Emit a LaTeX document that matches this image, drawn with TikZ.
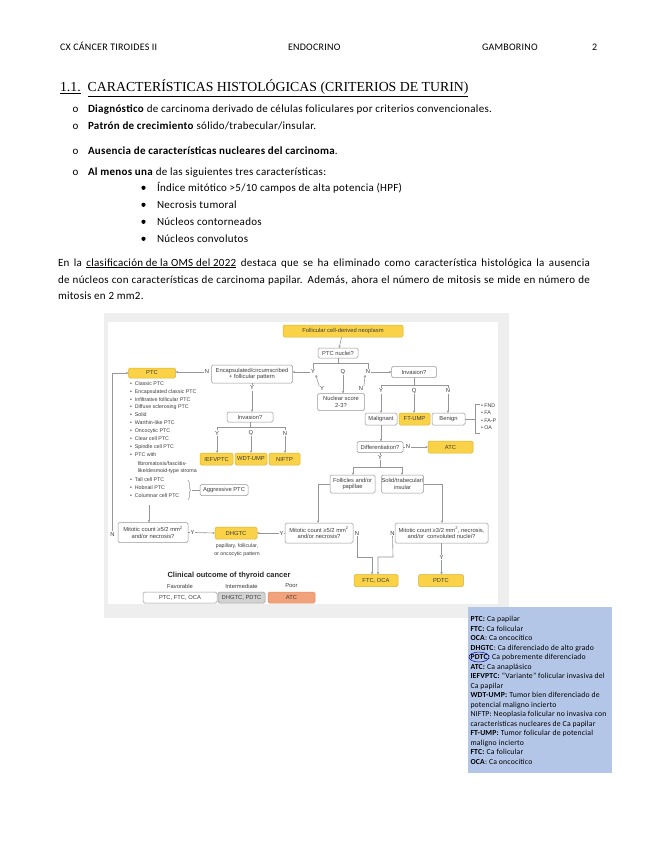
\documentclass[tikz,border=0pt]{standalone}
\usepackage{fontspec}
\setmainfont{Carlito}
\newfontfamily\figfont{Liberation Sans}
\newfontfamily\headfont{Liberation Serif}
\usetikzlibrary{arrows.meta,decorations.pathreplacing}
\definecolor{yfill}{RGB}{250,210,72}
\definecolor{ydraw}{RGB}{222,176,40}
\definecolor{fgray}{RGB}{150,150,150}
\definecolor{ftext}{RGB}{60,60,60}
\definecolor{legblue}{RGB}{180,198,231}
\definecolor{salmon}{RGB}{242,162,122}
\definecolor{salmond}{RGB}{225,140,100}
\definecolor{midgray}{RGB}{210,210,210}
\definecolor{bggray}{RGB}{238,238,238}
\begin{document}
\begin{tikzpicture}[x=1pt,y=-1pt,
  every node/.style={inner sep=0pt,outer sep=0pt},
  fb/.style={draw=fgray,line width=0.5pt,rounded corners=1.5pt,fill=white,font=\figfont\fontsize{5.8}{6.6}\selectfont,text=ftext,align=center},
  yb/.style={fb,fill=yfill,draw=ydraw},
  lb/.style={font=\figfont\fontsize{5.8}{6.6}\selectfont,text=ftext,inner sep=0.8pt},
  li/.style={font=\figfont\fontsize{5.3}{6}\selectfont,text=ftext,anchor=west},
  ar/.style={draw=fgray,line width=0.6pt,-{Stealth[length=2.6pt,width=2.4pt]}},
  ln/.style={draw=fgray,line width=0.6pt},
  hd/.style={anchor=base west,font=\fontsize{10}{12}\selectfont\addfontfeature{LetterSpace=2.5}},
  body/.style={anchor=base west,font=\fontsize{11}{13}\selectfont\addfontfeature{LetterSpace=2.5}},
  leg/.style={anchor=base west,font=\fontsize{7.7}{9}\selectfont\addfontfeature{LetterSpace=2.5}},
]
\useasboundingbox (0,0) rectangle (655,848);
\fill[white] (0,0) rectangle (655,848);

% ---------- header ----------
\node[hd] (h1) at (60,50.5) {CX CÁNCER TIROIDES II};
\node[hd] (h2) at (288,50.5) {ENDOCRINO};
\node[hd] (h3) at (482,50.5) {GAMBORINO};
\node[hd] (h4) at (592,50.5) {2};

% ---------- heading ----------
\node[anchor=base west,font=\headfont\fontsize{13.8}{15}\selectfont] (title) at (60,92)
  {\underline{1.1.}\hspace{7pt}\underline{CARACTERÍSTICAS HISTOLÓGICAS (CRITERIOS DE TURIN)}};

% ---------- bullets ----------
\node[body,anchor=base] (o1) at (75.5,113) {o};
\node[body] (t1) at (88,113) {\textbf{Diagnóstico} de carcinoma derivado de células foliculares por criterios convencionales.};
\node[body,anchor=base] (o2) at (75.5,130) {o};
\node[body] (t2) at (88,130) {\textbf{Patrón de crecimiento} sólido/trabecular/insular.};
\node[body,anchor=base] (o3) at (75.5,154) {o};
\node[body] (t3) at (88,154) {\textbf{Ausencia de características nucleares del carcinoma}.};
\node[body,anchor=base] (o4) at (75.5,175) {o};
\node[body] (t4) at (88,175) {\textbf{Al menos una} de las siguientes tres características:};
\foreach \yy/\tt in {191/{Índice mitótico >5/10 campos de alta potencia (HPF)},208/{Necrosis tumoral},225/{Núcleos contorneados},242/{Núcleos convolutos}}{
  \fill (143.5,\yy-3.2) circle (2.1);
  \node[body] at (157,\yy) {\tt};
}

% ---------- paragraph ----------
\node[body] (p1) at (58,266) {\makebox[532pt][s]{En la \underline{clasificación de la OMS del 2022} destaca que se ha eliminado como característica histológica la ausencia}};
\node[body] (p2) at (58,283) {\makebox[532pt][s]{de núcleos con características de carcinoma papilar. Además, ahora el número de mitosis se mide en número de}};
\node[body] (p3) at (58,299.5) {mitosis en 2 mm2.};

% ---------- figure background ----------
\fill[bggray] (104,313) rectangle (509,618);
\fill[white] (108,322) rectangle (498,604);

% ---------- flowchart ----------
\node[yb,minimum width=120,minimum height=12] (fcn) at (343,331) {Follicular cell-derived neoplasm};
\node[fb,minimum width=40,minimum height=10] (ptcn) at (338,353) {PTC nuclei?};
\coordinate (h1L) at (313,363);
\coordinate (h1R) at (368,363);
\coordinate (h1M) at (338,363);
\node[lb] (yA) at (313,372) {Y};
\node[lb] (qA) at (343,372) {Q};
\node[lb] (nA) at (368,372) {N};
\node[fb,minimum width=81,minimum height=18] (encaps) at (252,374) {Encapsulated/circumscribed\\+ follicular pattern};
\node[lb] (nB) at (207,372) {N};
\node[yb,minimum width=47,minimum height=10] (ptc) at (152,373) {PTC};
\node[fb,minimum width=45,minimum height=11] (inv1) at (414,372) {Invasion?};
\node[fb,minimum width=47,minimum height=17] (nuc) at (341,402) {Nuclear score\\2-3?};
\node[lb] (yB) at (322,389) {Y};
\node[lb] (nB2) at (361,389) {N};

\draw[ar] (fcn) -- (ptcn);
\draw[ln] (ptcn.south) -- (h1M);
\draw[ln] (h1L) -- (h1R);
\draw[ln] (h1L) -- (yA.north);
\draw[ln] (h1R) -- (nA.north);
\draw[ar] (yA.west) -- (yA.west -| encaps.east);
\draw[ar] (nB.west) -- (nB.west -| ptc.east);
\draw[ar] (nA.east) -- (nA.east -| inv1.west);
\draw[ar] (qA.south) -- (qA.south |- nuc.north);
\draw[ar] (yB.north west) -- (yA.south east);
\draw[ar] (nB2.north east) -- (nA.south west);

% left branch
\node[lb] (yC) at (252,388) {Y};
\node[fb,minimum width=46,minimum height=10] (inv2) at (250,417) {Invasion?};
\coordinate (h2L) at (217,427);
\coordinate (h2R) at (285,427);
\coordinate (h2M) at (250,427);
\node[lb] (yD) at (217,433) {Y};
\node[lb] (qD) at (251,433) {Q};
\node[lb] (nD) at (285,433) {N};
\node[yb,minimum width=33,minimum height=12] (iefv) at (216.5,459) {IEFVPTC};
\node[yb,minimum width=32,minimum height=12] (wdt) at (251,459) {WDT-UMP};
\node[yb,minimum width=31,minimum height=12] (niftp) at (284.5,459) {NIFTP};
\draw[ln] (encaps.south) -- (yC.north);
\draw[ar] (yC.south) -- (yC.south |- inv2.north);
\draw[ln] (inv2.south) -- (h2M);
\draw[ln] (h2L) -- (h2R);
\draw[ln] (h2L) -- (yD.north);
\draw[ln] (h2R) -- (nD.north);
\draw[ar] (yD.south) -- (yD.south |- iefv.north);
\draw[ar] (qD.south) -- (qD.south |- wdt.north);
\draw[ar] (nD.south) -- (nD.south |- niftp.north);

% right branch
\coordinate (h3L) at (381,385);
\coordinate (h3R) at (448,385);
\coordinate (h3M) at (414,385);
\node[lb] (yE) at (381,391) {Y};
\node[lb] (qE) at (414,391) {Q};
\node[lb] (nE) at (448,391) {N};
\node[fb,minimum width=32,minimum height=12] (mal) at (381,419) {Malignant};
\node[yb,minimum width=31,minimum height=12] (ftump) at (414.5,419) {FT-UMP};
\node[fb,minimum width=33,minimum height=12] (ben) at (448.5,419) {Benign};
\draw[ln] (inv1.south) -- (h3M);
\draw[ln] (h3L) -- (h3R);
\draw[ln] (h3L) -- (yE.north);
\draw[ln] (h3R) -- (nE.north);
\draw[ar] (yE.south) -- (yE.south |- mal.north);
\draw[ar] (qE.south) -- (qE.south |- ftump.north);
\draw[ar] (nE.south) -- (nE.south |- ben.north);
\coordinate (brT) at (480,404.5);
\coordinate (brB) at (480,433);
\coordinate (brM) at (475.5,419);
\draw[ln] (ben.east) -- (brM);
\draw[ln,line width=0.5pt] (brT) -- (475.5,404.5) -- (475.5,433) -- (brB);
\node[li] (fnd) at (481,405.5) {\textbullet\ FND};
\node[li] (fa) at (481,413) {\textbullet\ FA};
\node[li] (fap) at (481,420.5) {\textbullet\ FA-P};
\node[li] (oa) at (481,428) {\textbullet\ OA};

\node[fb,minimum width=46,minimum height=11] (diff) at (380,447) {Differentiation?};
\node[lb] (nF) at (408,447) {N};
\node[yb,minimum width=45,minimum height=12] (atc) at (450.5,447) {ATC};
\draw[ar] (mal.south) -- (mal.south |- diff.north);
\draw[ln] (diff.east) -- (nF.west);
\draw[ar] (nF.east) -- (atc.west);

\node[lb] (yF) at (380,457.5) {Y};
\coordinate (h4L) at (353,467);
\coordinate (h4R) at (402,467);
\coordinate (h4M) at (380,467);
\node[fb,minimum width=45,minimum height=18] (folpap) at (352.5,484) {Follicles and/or\\papillae};
\node[fb,minimum width=42,minimum height=18] (sol) at (402.5,484) {Solid/trabecular/\\insular};
\draw[ln] (diff.south) -- (yF.north);
\draw[ln] (yF.south) -- (h4M);
\draw[ln] (h4L) -- (h4R);
\draw[ar] (h4L) -- (h4L |- folpap.north);
\draw[ar] (h4R) -- (h4R |- sol.north);

\node[fb,minimum width=68,minimum height=20] (mit2) at (319,533) {Mitotic count ≥5/2 mm\textsuperscript{2}\\and/or necrosis?};
\node[fb,minimum width=93,minimum height=20] (mit3) at (441.5,533) {Mitotic count ≥3/2 mm\textsuperscript{2}, necrosis,\\and/or\ \ convoluted nuclei?};
\coordinate (c1) at (318,484);
\coordinate (c2) at (442,484);
\draw[ar] (folpap.west) -- (c1) -- (c1 |- mit2.north);
\draw[ar] (sol.east) -- (c2) -- (c2 |- mit3.north);

\node[lb] (yG) at (281.5,533) {Y};
\node[yb,minimum width=42,minimum height=12] (dhgtc) at (236,533) {DHGTC};
\node[lb,align=center,font=\figfont\fontsize{5.2}{7.5}\selectfont] (patt) at (237,550) {papillary, follicular,\\or oncocytic pattern};
\draw[ln] (mit2.west) -- (yG.east);
\draw[ar] (yG.west) -- (dhgtc.east);

\node[lb] (nG) at (357,533) {N};
\node[lb] (nH) at (392.5,533) {N};
\node[yb,minimum width=44,minimum height=12] (ftc) at (376,580.5) {FTC, OCA};
\coordinate (p1) at (357,557);
\coordinate (p2) at (372,557);
\coordinate (p3) at (393,557);
\coordinate (p4) at (378,557);
\draw[ar] (nG.south) -- (p1) -- (p2) -- (p2 |- ftc.north);
\draw[ar] (nH.south) -- (p3) -- (p4) -- (p4 |- ftc.north);

\node[lb] (yH) at (441.5,557.5) {Y};
\node[yb,minimum width=45,minimum height=12] (pdtc) at (441,580.5) {PDTC};
\draw[ln] (mit3.south) -- (yH.north);
\draw[ar] (yH.south) -- (yH.south |- pdtc.north);

% left column: PTC subtypes
\foreach \yy/\tt in {384/Classic PTC,392/Encapsulated classic PTC,399.5/Infiltrative follicular PTC,407.5/Diffuse sclerosing PTC,415/Solid/trabecular PTC,423/Warthin-like PTC,431/Oncocytic PTC,439/Clear cell PTC,447/Spindle cell PTC,455/PTC with,479.5/Tall cell PTC,487.5/Hobnail PTC,495.5/Columnar cell PTC}{
  \node[li] at (130,\yy) {\textbullet\hspace{3pt}\tt};
}
\node[li] (fib1) at (137.8,463.5) {fibromatosis/fasciitis-};
\node[li] (fib2) at (137.8,471.5) {like/desmoid-type stroma};
\draw[ln,line width=0.5pt,decorate,decoration={brace,amplitude=2.5pt}] (188,480) -- (188,500);
\node[fb,minimum width=48,minimum height=11] (agg) at (224,490) {Aggressive PTC};
\coordinate (brA) at (192,490);
\draw[ln] (brA) -- (agg.west);

\coordinate (la) at (149,505);
\node[fb,minimum width=70,minimum height=20] (mit1) at (153,532.5) {Mitotic count ≥5/2 mm\textsuperscript{2}\\and/or necrosis?};
\draw[ar] (la) -- (la |- mit1.north);
\node[lb] (yI) at (192.5,532.5) {Y};
\draw[ln] (mit1.east) -- (yI.west);
\draw[ar] (yI.east) -- (dhgtc.west);
\node[lb] (nI) at (112.5,534) {N};
\coordinate (lt) at (113,373);
\draw[ar] (nI.north) -- (nI.north |- lt) -- (ptc.west);

% clinical outcome
\node[font=\figfont\bfseries\fontsize{7.5}{8.5}\selectfont,text=black!85] (cot) at (229,575.5) {Clinical outcome of thyroid cancer};
\node[lb] (fav) at (180,586) {Favorable};
\node[lb] (intm) at (241.5,586) {Intermediate};
\node[lb] (poor) at (291.5,586) {Poor};
\node[fb,minimum width=74,minimum height=11] (oc1) at (180,597.5) {PTC, FTC, OCA};
\node[fb,fill=midgray,minimum width=47,minimum height=11] (oc2) at (241.5,597.5) {DHGTC, PDTC};
\node[fb,fill=salmon,draw=salmond,minimum width=47,minimum height=11] (oc3) at (291.5,597.5) {ATC};

% ---------- legend ----------
\fill[legblue] (468,607) rectangle (612,773);
\foreach \k/\tt in {0/{\textbf{PTC:} Ca papilar},1/{\textbf{FTC:} Ca folicular},2/{\textbf{OCA}: Ca oncocítico},3/{\textbf{DHGTC}: Ca diferenciado de alto grado},4/{\textbf{PDTC:} Ca pobremente diferenciado},5/{\textbf{ATC:} Ca anaplásico},6/{\textbf{IEFVPTC:} “Variante” folicular invasiva del},7/{Ca papilar},8/{\textbf{WDT-UMP:} Tumor bien diferenciado de},9/{potencial maligno incierto},10/{NIFTP: Neoplasia folicular no invasiva con},11/{características nucleares de Ca papilar},12/{\textbf{FT-UMP:} Tumor folicular de potencial},13/{maligno incierto},14/{\textbf{FTC:} Ca folicular},15/{\textbf{OCA}: Ca oncocítico}}{
  \node[leg] at (470.5,621.5+9.5*\k) {\tt};
}
\draw[blue!65!black,line width=0.5pt] (479,657) ellipse (10 and 5);
\end{tikzpicture}
\end{document}
